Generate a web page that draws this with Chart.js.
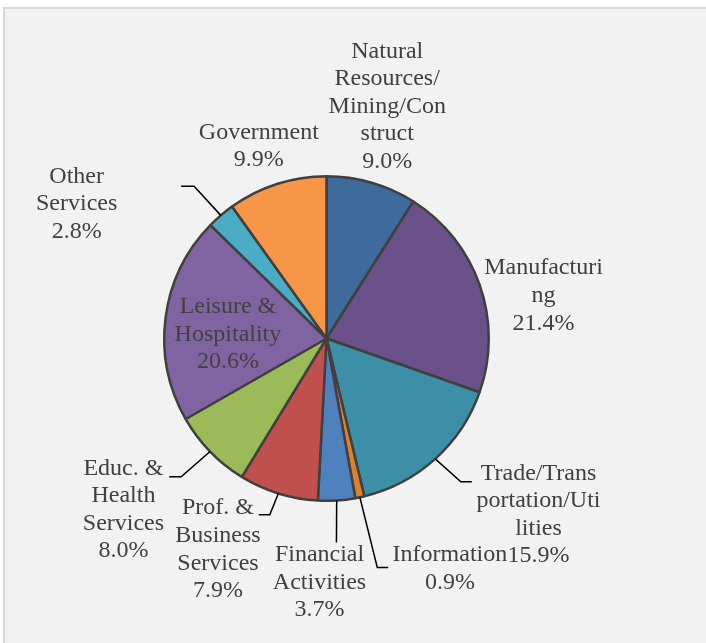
<!DOCTYPE html>
<html>
<head>
<meta charset="utf-8">
<script src="https://cdn.jsdelivr.net/npm/chart.js@4"></script>
<style>
  html, body { margin: 0; padding: 0; background: #ffffff; }
  #wrap { width: 706px; height: 643px; position: relative; }
  #pre { font: 24px "Liberation Serif"; position: absolute; left: 0; top: 0; visibility: hidden; }
</style>
</head>
<body>
<div id="wrap">
  <span id="pre">Government 9.9%</span>
  <canvas id="c" width="706" height="643"></canvas>
</div>
<script>
// ---- data ----
const categories = [
  "Natural Resources/Mining/Construct", "Manufacturing", "Trade/Transportation/Utilities",
  "Information", "Financial Activities", "Prof. & Business Services",
  "Educ. & Health Services", "Leisure & Hospitality", "Other Services", "Government"
];
const shares = [9.0, 21.4, 15.9, 0.9, 3.7, 7.9, 8.0, 20.6, 2.8, 9.9];
// label text as wrapped in the original
const labelLines = [
  ["Natural", "Resources/", "Mining/Con", "struct"],
  ["Manufacturi", "ng"],
  ["Trade/Trans", "portation/Uti", "lities"],
  ["Information"],
  ["Financial", "Activities"],
  ["Prof. &", "Business", "Services"],
  ["Educ. &", "Health", "Services"],
  ["Leisure &", "Hospitality"],
  ["Other", "Services"],
  ["Government"]
];

// ---- styles / layout (not data) ----
const sliceColors = ["#3f6a9c", "#6a518a", "#3c8fa6", "#da8230", "#4f81bd",
                     "#c0504d", "#9bbb59", "#8064a2", "#4bacc6", "#f79646"];
// label centre offsets from pie centre (px at reference radius 163)
const labelOffsets = [[61,-233],[218,-43],[213,177],[124,231],[-7,245],
                      [-109,212],[-204,172],[-99,-4],[-251,-135],[-68,-193]];
// leader line: [elbowDx, elbowDy, endDx, endDy] relative to centre, or null
const leaders = [null, null, [135,144,146,144], [51,230,62,230], [10,205,10,205],
                 [-57,177,-68,177], [-146,139,-158,139], null, [-133,-153,-146,-153], null];
const FONT = '24px "Liberation Serif"';

const bgPlugin = {
  id: 'bg',
  beforeDraw(chart) {
    const ctx = chart.ctx;
    ctx.save();
    ctx.fillStyle = '#ffffff';
    ctx.fillRect(0, 0, chart.width, chart.height);
    ctx.fillStyle = '#f2f2f2';
    ctx.fillRect(3, 7, chart.width, chart.height);
    ctx.strokeStyle = '#d9d9d9';
    ctx.lineWidth = 2;
    ctx.beginPath();
    ctx.moveTo(4, chart.height);
    ctx.lineTo(4, 8);
    ctx.lineTo(chart.width, 8);
    ctx.stroke();
    ctx.restore();
  }
};

const labelPlugin = {
  id: 'pieLabels',
  afterDatasetsDraw(chart) {
    const ctx = chart.ctx;
    const meta = chart.getDatasetMeta(0);
    const ds = chart.data.datasets[0].data;
    ctx.save();
    meta.data.forEach((arc, i) => {
      const p = arc.getProps(['x','y','startAngle','endAngle','outerRadius'], true);
      const s = p.outerRadius / 163;
      const mid = (p.startAngle + p.endAngle) / 2;
      const lead = leaders[i];
      if (lead) {
        const ex = p.x + p.outerRadius * Math.cos(mid);
        const ey = p.y + p.outerRadius * Math.sin(mid);
        ctx.strokeStyle = '#000000';
        ctx.lineWidth = 1.5;
        ctx.beginPath();
        ctx.moveTo(ex, ey);
        ctx.lineTo(p.x + lead[0]*s, p.y + lead[1]*s);
        ctx.lineTo(p.x + lead[2]*s, p.y + lead[3]*s);
        ctx.stroke();
      }
      const lines = labelLines[i].concat([ds[i].toFixed(1) + '%']);
      const lh = 27.6;
      const cx = p.x + labelOffsets[i][0]*s;
      const cy = p.y + labelOffsets[i][1]*s;
      ctx.fillStyle = '#404040';
      ctx.font = FONT;
      ctx.textAlign = 'center';
      ctx.textBaseline = 'middle';
      lines.forEach((t, k) => {
        ctx.fillText(t, cx, cy + (k - (lines.length - 1) / 2) * lh);
      });
    });
    ctx.restore();
  }
};

function draw() {
  new Chart(document.getElementById('c'), {
    type: 'pie',
    data: {
      labels: categories,
      datasets: [{
        data: shares,
        backgroundColor: sliceColors,
        borderColor: '#404040',
        borderWidth: 2.5
      }]
    },
    options: {
      responsive: false,
      animation: false,
      layout: { padding: { left: 163, right: 216, top: 175, bottom: 141 } },
      plugins: {
        legend: { display: false },
        tooltip: { enabled: false },
        title: { display: false }
      }
    },
    plugins: [bgPlugin, labelPlugin]
  });
}

Promise.all([document.fonts.load(FONT, 'Government'), document.fonts.ready])
  .then(draw, draw);
</script>
</body>
</html>
